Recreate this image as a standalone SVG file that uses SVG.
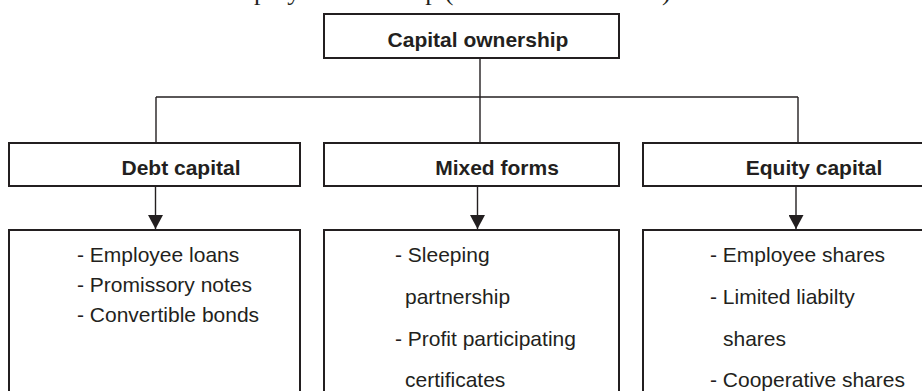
<svg xmlns="http://www.w3.org/2000/svg" width="922" height="391" viewBox="0 0 922 391">
  <style>
    .box { fill: #ffffff; stroke: #231f20; stroke-width: 2; }
    .conn { fill: none; stroke: #231f20; stroke-width: 1.4; }
    .hdr { font-family: "Liberation Sans", Arial, sans-serif; font-size: 21px; font-weight: bold; fill: #231f20; text-anchor: middle; }
    .item { font-family: "Liberation Sans", Arial, sans-serif; font-size: 21px; fill: #231f20; }
    .cap { font-family: "Liberation Serif", "Times New Roman", serif; font-size: 26px; fill: #231f20; }
  </style>
  <defs>
    <marker id="arrow" viewBox="0 0 14 15" refX="14" refY="7.5" markerWidth="14" markerHeight="15" markerUnits="userSpaceOnUse" orient="auto">
      <path d="M0,0 L14,7.5 L0,15 Z" fill="#231f20"/>
    </marker>
  </defs>
  <rect width="922" height="391" fill="#ffffff"/>

  <text class="cap" x="218" y="-0.5">Employee ownership (<tspan x="662">)</tspan></text>

  <g id="connectors">
    <path class="conn" d="M480 58 V142"/>
    <path class="conn" d="M156 97 H798"/>
    <path class="conn" d="M156 97 V142"/>
    <path class="conn" d="M798 97 V142"/>
    <path class="conn" d="M155.5 186 V229" marker-end="url(#arrow)"/>
    <path class="conn" d="M477.5 186 V229" marker-end="url(#arrow)"/>
    <path class="conn" d="M796 186 V229" marker-end="url(#arrow)"/>
  </g>

  <g id="capital-ownership">
    <rect class="box" x="324" y="14" width="295" height="44"/>
    <text class="hdr" x="478" y="46.5">Capital ownership</text>
  </g>

  <g id="debt-capital">
    <rect class="box" x="9" y="143" width="291" height="43"/>
    <text class="hdr" x="181" y="175">Debt capital</text>
  </g>

  <g id="mixed-forms">
    <rect class="box" x="324" y="143" width="295" height="43"/>
    <text class="hdr" x="497" y="175">Mixed forms</text>
  </g>

  <g id="equity-capital">
    <rect class="box" x="643" y="143" width="296" height="43"/>
    <text class="hdr" x="814" y="175">Equity capital</text>
  </g>

  <g id="debt-items">
    <rect class="box" x="9" y="230" width="291" height="200"/>
    <text class="item" x="77" y="262">- Employee loans</text>
    <text class="item" x="77" y="292">- Promissory notes</text>
    <text class="item" x="77" y="321.5">- Convertible bonds</text>
  </g>

  <g id="mixed-items">
    <rect class="box" x="324" y="230" width="295" height="200"/>
    <text class="item" x="395" y="262">- Sleeping</text>
    <text class="item" x="405" y="304">partnership</text>
    <text class="item" x="395" y="345.5">- Profit participating</text>
    <text class="item" x="405" y="387">certificates</text>
  </g>

  <g id="equity-items">
    <rect class="box" x="643" y="230" width="296" height="200"/>
    <text class="item" x="710" y="262">- Employee shares</text>
    <text class="item" x="710" y="304">- Limited liabilty</text>
    <text class="item" x="723" y="345.5">shares</text>
    <text class="item" x="710" y="387">- Cooperative shares</text>
  </g>
</svg>
